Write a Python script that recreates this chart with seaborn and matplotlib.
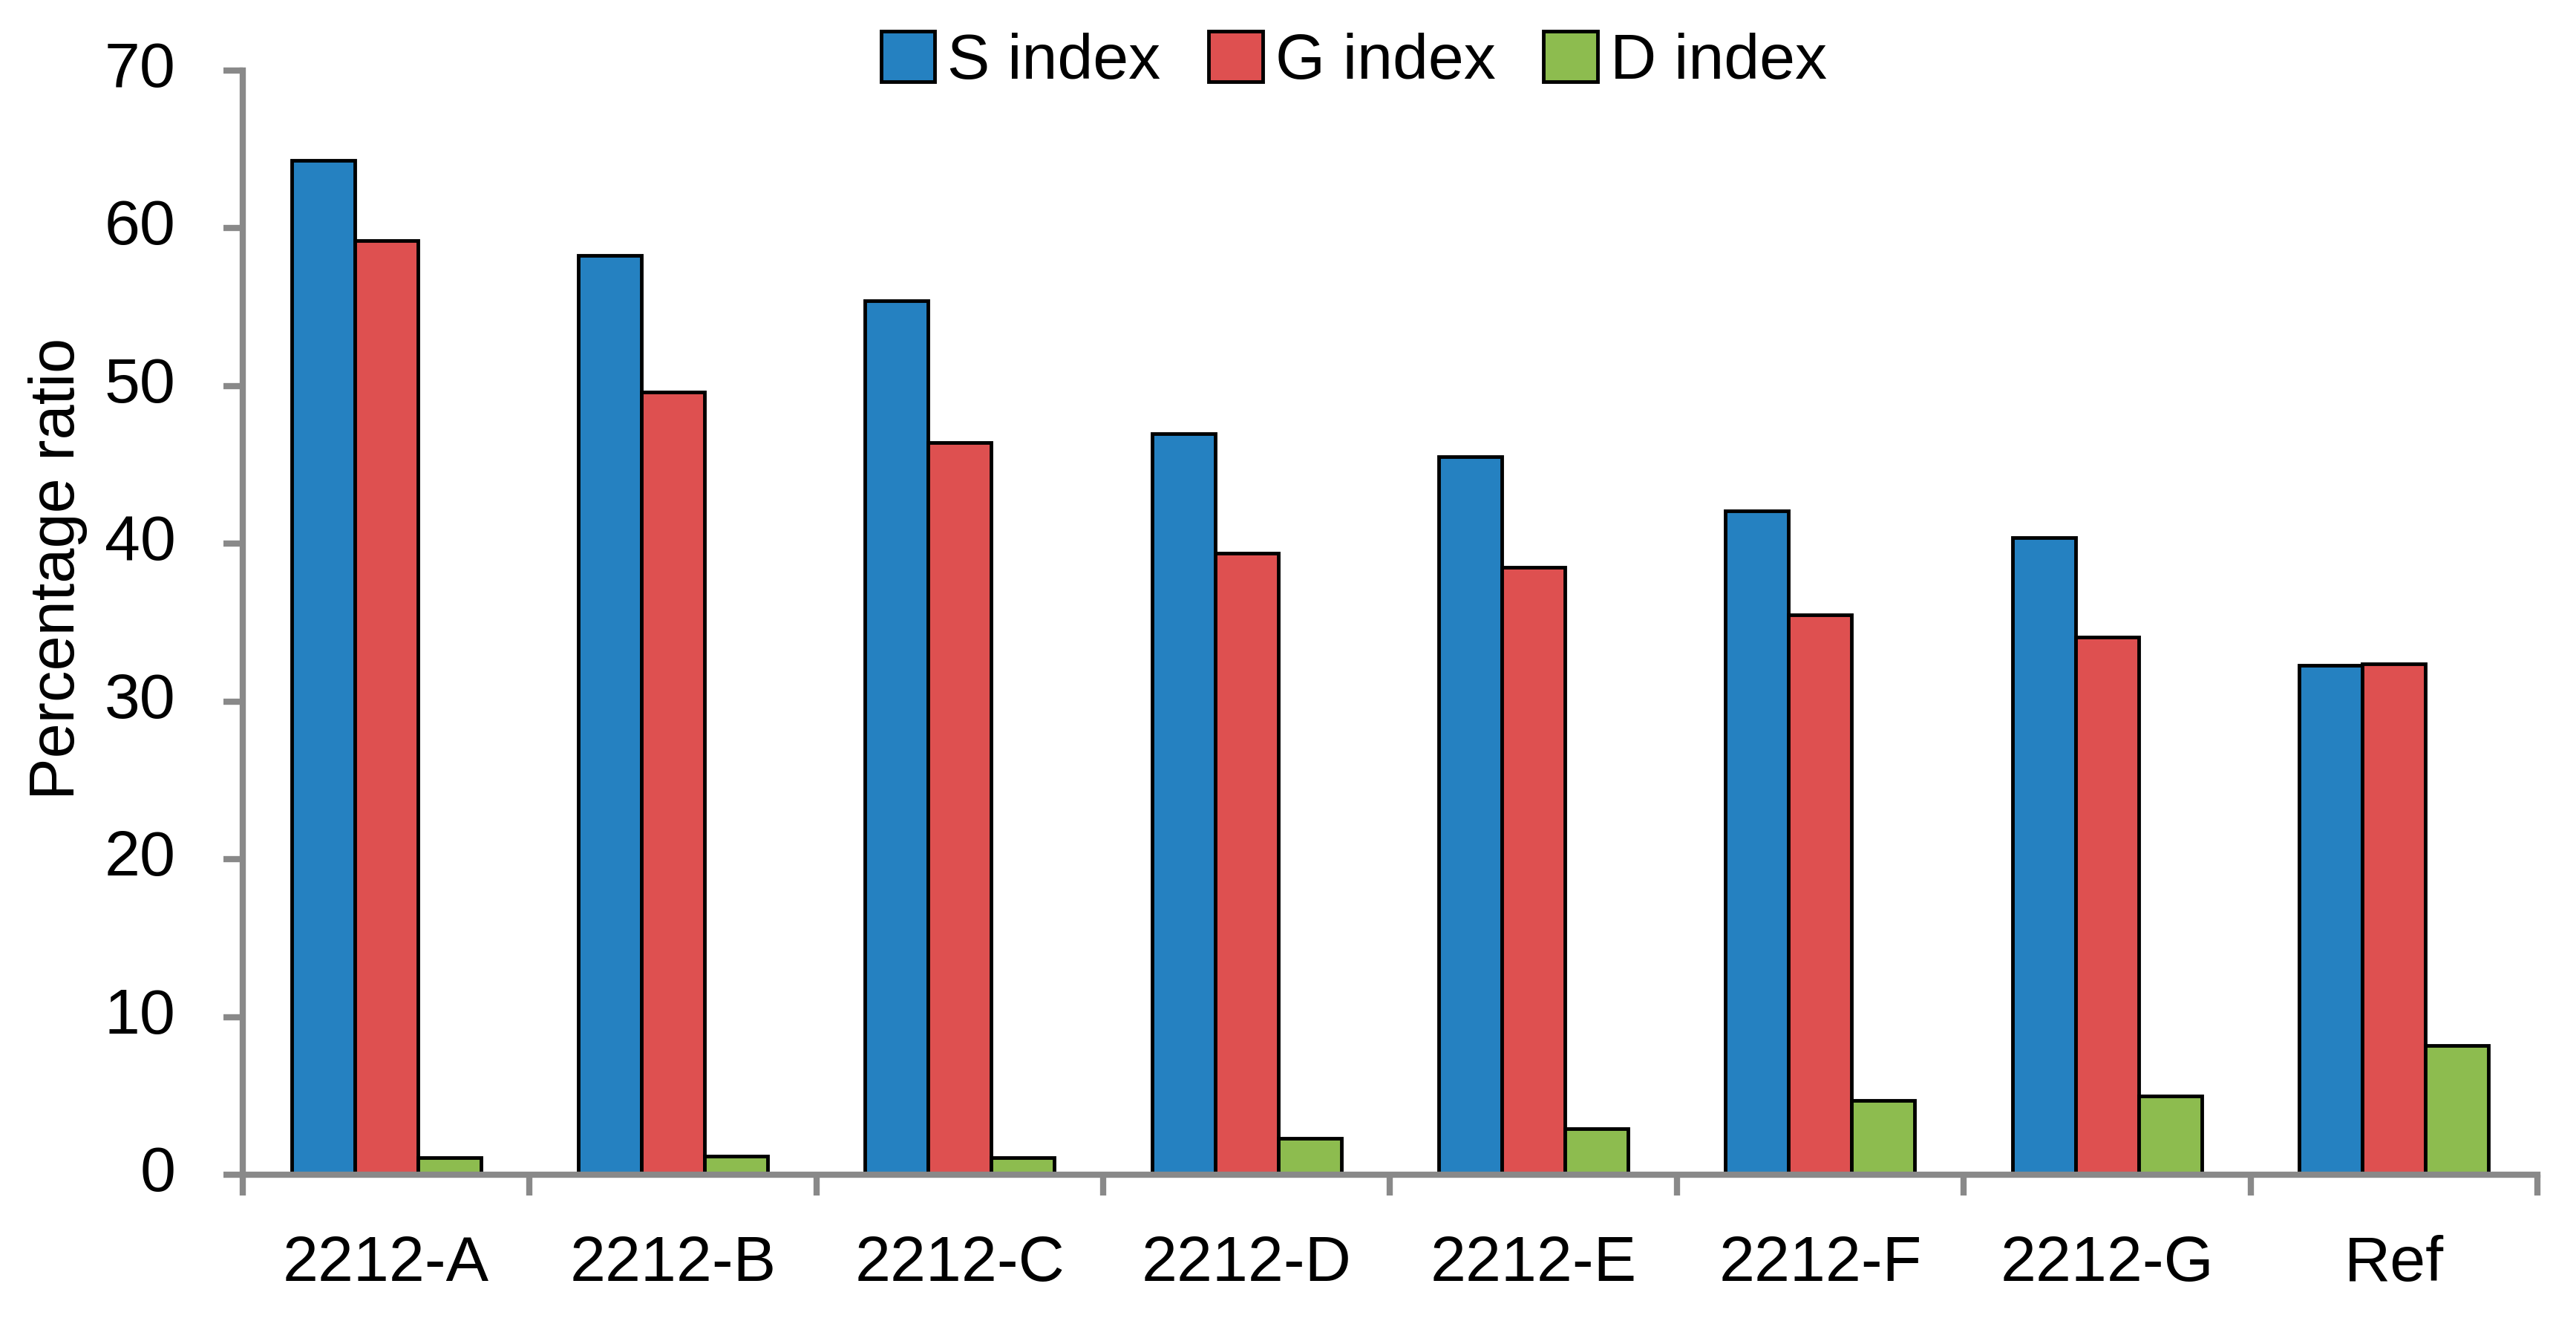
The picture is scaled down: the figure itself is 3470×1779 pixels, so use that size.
import matplotlib
matplotlib.use("Agg")
import matplotlib.pyplot as plt
import seaborn as sns
import numpy as np
import pandas as pd
from matplotlib.ticker import FixedLocator, MultipleLocator

# values
samples = ["2212-A", "2212-B", "2212-C", "2212-D", "2212-E", "2212-F", "2212-G", "Ref"]
s_index = [64.3, 58.3, 55.4, 47.0, 45.5, 42.1, 40.4, 32.3]
g_index = [59.2, 49.6, 46.4, 39.4, 38.5, 35.5, 34.1, 32.4]
d_index = [1.1, 1.2, 1.1, 2.3, 2.9, 4.7, 5.0, 8.2]
series = ["S index", "G index", "D index"]
colors = ["#2581C1", "#DE5050", "#8DBC4F"]

df = pd.DataFrame({
    "sample": samples * 3,
    "index": [series[0]] * len(samples) + [series[1]] * len(samples) + [series[2]] * len(samples),
    "value": s_index + g_index + d_index,
})

sns.set_style("white")
plt.rcParams['font.family'] = ['Liberation Sans', 'DejaVu Sans']
plt.rcParams['text.color'] = 'black'
plt.rcParams['xtick.color'] = 'black'
plt.rcParams['ytick.color'] = 'black'
plt.rcParams['axes.labelcolor'] = 'black'

fs = 62
grey = "#898989"

fig = plt.figure(figsize=(34.7, 17.79), dpi=100)
ax = fig.add_axes([0.0942, 0.1107, 0.8908, 0.8359])

sns.barplot(data=df, x="sample", y="value", hue="index", order=samples, hue_order=series,
            palette=colors, width=0.66, edgecolor="black", linewidth=3.5, saturation=1,
            errorbar=None, ax=ax)

ax.set_xlim(-0.5, len(samples) - 0.5)
ax.set_ylim(0, 70)
ax.yaxis.set_major_locator(MultipleLocator(10))
ax.xaxis.set_minor_locator(FixedLocator(np.arange(-0.5, len(samples), 1.0)))

for side in ["top", "right"]:
    ax.spines[side].set_visible(False)
for side in ["left", "bottom"]:
    ax.spines[side].set_color(grey)
    ax.spines[side].set_linewidth(6)

ax.tick_params(axis="y", which="major", direction="out", length=19, width=6, color=grey,
               labelcolor="black", labelsize=fs, pad=46, left=True)
ax.tick_params(axis="x", which="major", length=0, labelsize=fs, labelcolor="black", pad=58)
ax.tick_params(axis="x", which="minor", direction="out", length=20, width=6, color=grey, bottom=True)
for lbl in ax.get_yticklabels():
    lbl.set_verticalalignment("center")

ax.set_xlabel("")
ax.set_ylabel("Percentage ratio", fontsize=61, color="black")
ax.yaxis.set_label_coords(-0.0676, 0.549)

ax.legend(loc="center", bbox_to_anchor=(0.4843, 1.008), ncol=3, frameon=False, fontsize=fs,
          handlelength=0.84, handleheight=0.84, handletextpad=0.2, columnspacing=0.75,
          borderpad=0, borderaxespad=0)
for h in ax.get_legend().legend_handles:
    h.set_edgecolor("black")
    h.set_linewidth(3.5)

fig.savefig("out.png", dpi=100)
